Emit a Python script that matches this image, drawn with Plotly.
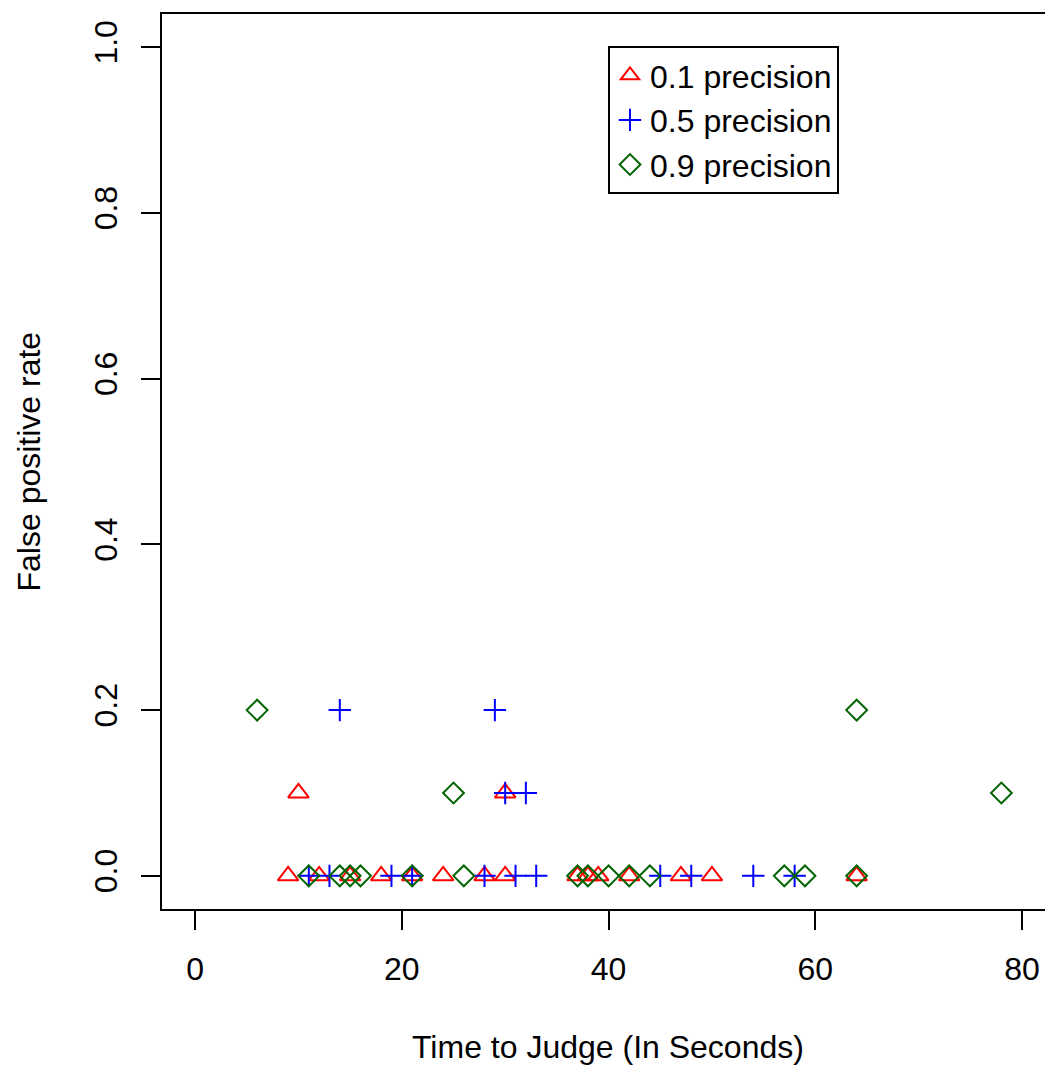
import plotly.graph_objects as go

# Data
red_x = [9, 10, 12, 15, 18, 21, 24, 28, 30, 30, 37, 38, 39, 42, 47, 50, 64]
red_y = [0, 0.1, 0, 0, 0, 0, 0, 0, 0, 0.1, 0, 0, 0, 0, 0, 0, 0]

blue_x = [11, 13, 14, 19, 21, 28, 29, 30, 31, 32, 33, 45, 48, 54, 58]
blue_y = [0, 0, 0.2, 0, 0, 0, 0.2, 0.1, 0, 0.1, 0, 0, 0, 0, 0]

green_x = [6, 11, 14, 15, 16, 21, 25, 26, 37, 38, 40, 42, 44, 57, 59, 64, 64, 78]
green_y = [0.2, 0, 0, 0, 0, 0, 0.1, 0, 0, 0, 0, 0, 0, 0, 0, 0, 0.2, 0.1]

series_names = ["0.1 precision", "0.5 precision", "0.9 precision"]
x_ticks = [0, 20, 40, 60, 80]
y_ticks = [0.0, 0.2, 0.4, 0.6, 0.8, 1.0]
y_tick_labels = ["0.0", "0.2", "0.4", "0.6", "0.8", "1.0"]

FONT = "Liberation Sans, Arial, sans-serif"
FS = 32

fig = go.Figure()
fig.add_trace(go.Scatter(
    x=red_x, y=red_y, mode="markers", name=series_names[0],
    marker=dict(symbol="triangle-up-open", size=18, color="#FF0000",
                line=dict(color="#FF0000", width=2)),
))
fig.add_trace(go.Scatter(
    x=blue_x, y=blue_y, mode="markers", name=series_names[1],
    marker=dict(symbol="cross-thin-open", size=16, color="#0000FF",
                line=dict(color="#0000FF", width=2)),
))
fig.add_trace(go.Scatter(
    x=green_x, y=green_y, mode="markers", name=series_names[2],
    marker=dict(symbol="diamond-open", size=16, color="#006400",
                line=dict(color="#006400", width=2)),
))

fig.update_layout(
    width=1045, height=1065,
    margin=dict(l=162, r=0, t=14, b=156, pad=0),
    paper_bgcolor="white", plot_bgcolor="white",
    font=dict(family=FONT, size=FS, color="black"),
    showlegend=True,
    legend=dict(
        x=(608 - 162) / 883, y=(909 - 46) / 895, xanchor="left", yanchor="top",
        bordercolor="black", borderwidth=2, bgcolor="white",
        font=dict(family=FONT, size=FS, color="black"),
        itemsizing="trace",
    ),
    xaxis=dict(
        range=[-3.2, 82.22], tickvals=x_ticks, ticktext=[str(v) for v in x_ticks],
        showgrid=False, zeroline=False,
        showline=True, linecolor="black", linewidth=2, mirror=True,
        ticks="outside", ticklen=19, tickwidth=2, tickcolor="black",
        ticklabelstandoff=12,
        tickfont=dict(family=FONT, size=FS, color="black"),
    ),
    yaxis=dict(
        range=[-0.04, 1.04], tickvals=y_ticks, ticktext=y_tick_labels,
        showgrid=False, zeroline=False,
        showline=True, linecolor="black", linewidth=2, mirror=False,
        ticks="outside", ticklen=19, tickwidth=2, tickcolor="black",
        tickangle=-90, ticklabelstandoff=11,
        tickfont=dict(family=FONT, size=FS, color="black"),
    ),
    annotations=[
        dict(text="Time to Judge (In Seconds)", xref="paper", yref="paper",
             x=(608 - 162) / 883, y=(909 - 1047) / 895,
             xanchor="center", yanchor="middle", showarrow=False,
             font=dict(family=FONT, size=FS, color="black")),
        dict(text="False positive rate", xref="paper", yref="paper",
             x=(28 - 162) / 883, y=0.5, textangle=-90,
             xanchor="center", yanchor="middle", showarrow=False,
             font=dict(family=FONT, size=FS, color="black")),
    ],
)

fig.write_html("out.html")
